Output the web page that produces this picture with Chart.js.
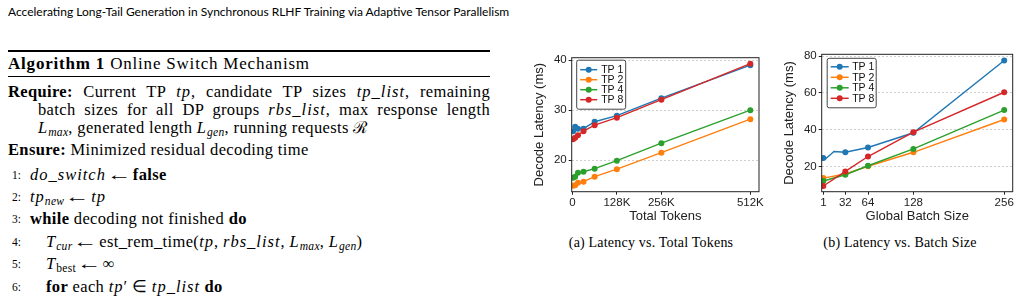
<!DOCTYPE html>
<html>
<head>
<meta charset="utf-8">
<script src="https://cdn.jsdelivr.net/npm/chart.js@4.4.1/dist/chart.umd.min.js"></script>
<style>
body { margin: 0; width: 1020px; height: 296px; background: #fff; overflow: hidden; position: relative; color: #000; font-family: "Liberation Serif", serif; }
.hdr { position: absolute; left: 8px; top: 4px; font: 12px Lato, sans-serif; white-space: nowrap; }
.rule { position: absolute; left: 8px; width: 482px; background: #000; }
.ln { position: absolute; white-space: nowrap; font-size: 16.5px; line-height: 20px; letter-spacing: 0.35px; }
.just { text-align: justify; text-align-last: justify; white-space: normal; }
.num { position: absolute; font-size: 11.5px; line-height: 20px; }
.cap { position: absolute; font-size: 14px; line-height: 16px; letter-spacing: 0.2px; white-space: nowrap; transform: translateX(-50%); }
i { letter-spacing: 1px; }
.arr { display: inline-block; transform: scaleX(1.5); margin: 0 5px; }
sub { font-size: 70%; vertical-align: -3px; line-height: 0; letter-spacing: 0.3px; }
canvas { position: absolute; }
</style>
</head>
<body>
<div class="hdr">Accelerating Long-Tail Generation in Synchronous RLHF Training via Adaptive Tensor Parallelism</div>

<div class="rule" style="top:50px;height:1.5px"></div>
<div class="ln" style="left:8px;top:54px;font-size:17px;letter-spacing:0.8px"><b>Algorithm 1</b> Online Switch Mechanism</div>
<div class="rule" style="top:76px;height:1px"></div>

<div class="ln just" style="left:8px;top:82px;width:482px"><b>Require:</b> Current TP <i>tp</i>, candidate TP sizes <i>tp_list</i>, remaining</div>
<div class="ln just" style="left:38px;top:100px;width:452px">batch sizes for all DP groups <i>rbs_list</i>, max response length</div>
<div class="ln" style="left:38px;top:118px"><i>L<sub>max</sub></i>, generated length <i>L<sub>gen</sub></i>, running requests ℛ</div>
<div class="ln" style="left:8px;top:140px"><b>Ensure:</b> Minimized residual decoding time</div>

<div class="num" style="left:12px;top:165px">1:</div>
<div class="ln" style="left:30px;top:165px"><i>do_switch</i><span class="arr">←</span><b>false</b></div>
<div class="num" style="left:12px;top:187px">2:</div>
<div class="ln" style="left:30px;top:187px"><i>tp<sub>new</sub></i><span class="arr">←</span><i>tp</i></div>
<div class="num" style="left:12px;top:209px">3:</div>
<div class="ln" style="left:30px;top:209px"><b>while</b> decoding not finished <b>do</b></div>
<div class="num" style="left:12px;top:232px">4:</div>
<div class="ln" style="left:46px;top:232px"><i>T<sub>cur</sub></i><span class="arr">←</span>est_rem_time(<i>tp</i>, <i>rbs_list</i>, <i>L<sub>max</sub></i>, <i>L<sub>gen</sub></i>)</div>
<div class="num" style="left:12px;top:254px">5:</div>
<div class="ln" style="left:46px;top:254px"><i>T</i><sub>best</sub><span class="arr">←</span>∞</div>
<div class="num" style="left:12px;top:277px">6:</div>
<div class="ln" style="left:46px;top:277px"><b>for</b> each <i>tp</i>′ ∈ <i>tp_list</i> <b>do</b></div>

<canvas id="tokChart" width="250" height="190" style="left:520px;top:40px"></canvas>
<canvas id="batchChart" width="250" height="190" style="left:770px;top:40px"></canvas>

<div class="cap" style="left:651px;top:235px">(a) Latency vs. Total Tokens</div>
<div class="cap" style="left:900px;top:235px">(b) Latency vs. Batch Size</div>

<script>
// Series labels and colours (matplotlib tab10)
const tpLabels = ['TP 1', 'TP 2', 'TP 4', 'TP 8'];
const tpColors = ['#1f77b4', '#ff7f0e', '#2ca02c', '#d62728'];

// (a) latency vs total tokens, x in K tokens
const tokensK = [2, 8, 16, 32, 64, 128, 256, 512];
const tokTP1 = [25.8, 26.7, 26.3, 26.3, 27.7, 28.9, 32.4, 39.0];
const tokTP2 = [14.9, 15.0, 15.5, 15.7, 16.7, 18.2, 21.5, 28.2];
const tokTP4 = [16.5, 16.7, 17.5, 17.7, 18.3, 19.9, 23.4, 30.0];
const tokTP8 = [24.2, 24.5, 25.0, 25.8, 27.0, 28.5, 32.1, 39.3];
const tokXTicks = [0, 128, 256, 512];
const tokYTicks = [20, 30, 40];

// (b) latency vs global batch size
const batchTP1X = [1, 4, 16, 32, 64, 128, 256];
const batchTP1 = [24.7, 24.2, 28.2, 27.8, 30.4, 38.4, 77.6];
const batchTP1Marks = [true, false, false, true, true, true, true];
const batchX = [1, 32, 64, 128, 256];
const batchTP2 = [13.8, 16.0, 20.2, 27.8, 45.6];
const batchTP4 = [12.2, 15.6, 20.5, 29.6, 50.7];
const batchTP8 = [9.5, 17.4, 25.5, 38.7, 60.4];
const batchXTicks = [1, 32, 64, 128, 256];
const batchYTicks = [20, 40, 60, 80];

const FONT = 'Liberation Sans';
const pts = (xs, ys) => xs.map((x, i) => ({ x: x, y: ys[i] }));

function series(label, i, data, radius) {
    return {
        label: label,
        data: data,
        borderColor: tpColors[i],
        backgroundColor: tpColors[i],
        pointBackgroundColor: tpColors[i],
        pointBorderWidth: 0,
        pointRadius: radius === undefined ? 3 : radius,
        pointHoverRadius: 0,
        borderWidth: 1.4,
        order: 4 - i,
    };
}

// frame around the plot area, drawn over the lines like matplotlib spines
const frame = {
    id: 'frame',
    afterDatasetsDraw(chart) {
        const { ctx, chartArea: a } = chart;
        ctx.save();
        ctx.strokeStyle = '#222';
        ctx.lineWidth = 1;
        ctx.strokeRect(a.left, a.top, a.right - a.left, a.bottom - a.top);
        ctx.restore();
    },
};

// boxed legend with line + marker samples
const boxLegend = {
    id: 'boxLegend',
    afterDraw(chart, args, opts) {
        const { ctx, chartArea } = chart;
        const x0 = chartArea.left + opts.dx;
        const y0 = chartArea.top + opts.dy;
        ctx.save();
        ctx.fillStyle = 'rgba(255,255,255,0.85)';
        ctx.strokeStyle = '#444';
        ctx.lineWidth = 1;
        ctx.beginPath();
        ctx.roundRect(x0, y0, opts.w, opts.h, 2);
        ctx.fill();
        ctx.stroke();
        ctx.font = '10.5px "' + FONT + '"';
        ctx.textBaseline = 'middle';
        chart.data.datasets.forEach((ds, i) => {
            const y = y0 + opts.first + i * opts.row;
            ctx.strokeStyle = ds.borderColor;
            ctx.lineWidth = 1.5;
            ctx.beginPath();
            ctx.moveTo(x0 + 3.5, y);
            ctx.lineTo(x0 + 3.5 + opts.len, y);
            ctx.stroke();
            ctx.fillStyle = ds.borderColor;
            ctx.beginPath();
            ctx.arc(x0 + 3.5 + opts.len / 2, y, 3, 0, 2 * Math.PI);
            ctx.fill();
            ctx.fillStyle = '#111';
            ctx.fillText(ds.label, x0 + opts.tx, y + 0.5);
        });
        ctx.restore();
    },
};

function axes(o) {
    return {
        x: {
            type: 'linear',
            min: o.xMin,
            max: o.xMax,
            afterBuildTicks: (s) => { s.ticks = o.xTicks.map((v) => ({ value: v })); },
            afterFit: (s) => { s.height = 38.3; s.paddingLeft = 0; s.paddingRight = 0; },
            grid: { drawOnChartArea: false, tickLength: 3, tickColor: '#222' },
            border: { display: false },
            ticks: {
                autoSkip: false, maxRotation: 0, padding: 1, color: '#222',
                font: { family: FONT, size: 11.5 },
                callback: o.xFmt,
            },
            title: {
                display: true, text: o.xTitle, color: '#222',
                font: { family: FONT, size: 13 },
                padding: { top: 0, bottom: 5.5 },
            },
        },
        y: {
            min: o.yMin,
            max: o.yMax,
            afterBuildTicks: (s) => { s.ticks = o.yTicks.map((v) => ({ value: v })); },
            afterFit: (s) => { s.width = 51.7; },
            grid: { color: '#c4c4c4', lineWidth: 0.8, tickLength: 3, tickColor: '#222', tickWidth: 1 },
            border: { display: false, dash: [2, 2] },
            ticks: {
                padding: 2, color: '#222',
                font: { family: FONT, size: 11.5 },
            },
            title: {
                display: true, text: 'Decode Latency (ms)', color: '#222',
                font: { family: FONT, size: 13 },
                padding: { top: 12, bottom: 0 },
            },
        },
    };
}

new Chart(document.getElementById('tokChart'), {
    type: 'line',
    data: {
        datasets: [
            series(tpLabels[0], 0, pts(tokensK, tokTP1)),
            series(tpLabels[1], 1, pts(tokensK, tokTP2)),
            series(tpLabels[2], 2, pts(tokensK, tokTP4)),
            series(tpLabels[3], 3, pts(tokensK, tokTP8)),
        ],
    },
    options: {
        responsive: false,
        animation: false,
        events: [],
        devicePixelRatio: 1,
        layout: { padding: { top: 17.7, right: 11, bottom: 0, left: 0 } },
        scales: axes({
            xMin: -2, xMax: 537, xTicks: tokXTicks, yMin: 13.7, yMax: 40.5, yTicks: tokYTicks,
            xTitle: 'Total Tokens',
            xFmt: (v) => (v === 0 ? '0' : v + 'K'),
        }),
        plugins: {
            legend: { display: false },
            tooltip: { enabled: false },
            boxLegend: { dx: 5, dy: 2.5, w: 49, h: 49, first: 9.5, row: 10, len: 17, tx: 24.5 },
        },
    },
    plugins: [frame, boxLegend],
});

new Chart(document.getElementById('batchChart'), {
    type: 'line',
    data: {
        datasets: [
            series(tpLabels[0], 0, pts(batchTP1X, batchTP1), batchTP1Marks.map((m) => (m ? 3 : 0))),
            series(tpLabels[1], 1, pts(batchX, batchTP2)),
            series(tpLabels[2], 2, pts(batchX, batchTP4)),
            series(tpLabels[3], 3, pts(batchX, batchTP8)),
        ],
    },
    options: {
        responsive: false,
        animation: false,
        events: [],
        devicePixelRatio: 1,
        layout: { padding: { top: 14.3, right: 7.3, bottom: 0, left: 0 } },
        scales: axes({
            xMin: -1.3, xMax: 268, xTicks: batchXTicks, yMin: 6.4, yMax: 81, yTicks: batchYTicks,
            xTitle: 'Global Batch Size',
            xFmt: (v) => String(v),
        }),
        plugins: {
            legend: { display: false },
            tooltip: { enabled: false },
            boxLegend: { dx: 5.5, dy: 4, w: 49, h: 49.5, first: 8.5, row: 10.5, len: 18, tx: 25 },
        },
    },
    plugins: [frame, boxLegend],
});
</script>
</body>
</html>
